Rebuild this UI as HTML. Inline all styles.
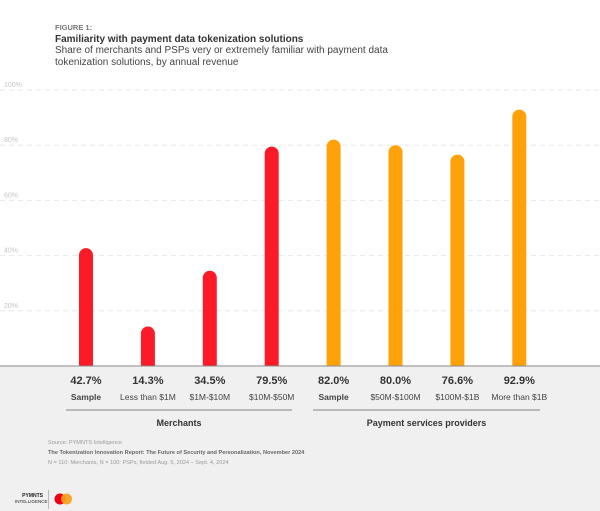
<!DOCTYPE html>
<html><head><meta charset="utf-8"><style>
body{margin:0;width:600px;height:511px;background:#fff;font-family:"Liberation Sans",sans-serif;overflow:hidden;position:relative}
.t{position:absolute;white-space:nowrap}
</style></head><body>
<div class="t" style="left:55px;top:23px;font-size:7.5px;font-weight:bold;color:#777">FIGURE 1:</div>
<div class="t" style="left:55px;top:34px;font-size:10px;font-weight:bold;color:#333">Familiarity with payment data tokenization solutions</div>
<div class="t" style="left:55px;top:45px;font-size:10px;color:#444;line-height:12px">Share of merchants and PSPs very or extremely familiar with payment data<br>tokenization solutions, by annual revenue</div>
<div style="position:absolute;left:0;top:366px;width:600px;height:145px;background:#eff0ef"></div>
<svg id="c" width="600" height="511" style="position:absolute;left:0;top:0"></svg>
<div class="t" style="left:48px;top:440px;font-size:5.6px;color:#999">Source: PYMNTS Intelligence</div>
<div class="t" style="left:48px;top:450px;font-size:5.6px;font-weight:bold;color:#666">The Tokenization Innovation Report: The Future of Security and Personalization, November 2024</div>
<div class="t" style="left:48px;top:460px;font-size:5.6px;color:#999">N = 110: Merchants, N = 100: PSPs, fielded Aug. 5, 2024 – Sept. 4, 2024</div>
<div class="t" style="left:15px;top:493px;width:28px;font-size:5px;font-weight:bold;color:#222;text-align:right;line-height:6px">PYMNTS<br><span style="font-weight:normal;font-size:4.5px">INTELLIGENCE</span></div>
<div style="position:absolute;left:48px;top:490px;width:1px;height:19px;background:#bbb"></div>
<svg style="position:absolute;left:54px;top:492px" width="20" height="14"><circle cx="6" cy="7" r="5.5" fill="#eb001b"/><circle cx="12.5" cy="7" r="5.5" fill="#f79e1b" opacity="0.9"/></svg>
<script>
const ticks=["20%","40%","60%","80%","100%"];
const tickVals=[20,40,60,80,100];
const cats=["Sample","Less than $1M","$1M-$10M","$10M-$50M","Sample","$50M-$100M","$100M-$1B","More than $1B"];
const values=[42.7,14.3,34.5,79.5,82.0,80.0,76.6,92.9];
const groups=["Merchants","Merchants","Merchants","Merchants","Payment services providers","Payment services providers","Payment services providers","Payment services providers"];
const svg=document.getElementById('c');const NS="http://www.w3.org/2000/svg";
const y0=366,pxPer=2.76;const y=v=>y0-v*pxPer;const x=i=>86+i*61.9;
function mk(t,a){const e=document.createElementNS(NS,t);for(const k in a)e.setAttribute(k,a[k]);svg.appendChild(e);return e;}
tickVals.forEach((v,i)=>{const l=mk('line',{x1:0,x2:600,y1:y(v),y2:y(v),stroke:'#e4e4e4','stroke-dasharray':'5,4','stroke-width':0.8});


const t=mk('text',{x:4,y:y(v)-3,'font-size':7,fill:'#c4c4c4','font-family':'Liberation Sans'});t.textContent=ticks[i];

});
values.forEach((v,i)=>{const w=14;const top=y(v);
const p=mk('path',{d:`M${x(i)-w/2},${y0}V${top+w/2}A${w/2},${w/2} 0 0 1 ${x(i)+w/2},${top+w/2}V${y0}Z`,fill:groups[i]==="Merchants"?'#fb1a26':'#ffa20a'});


const t=mk('text',{x:x(i),y:384,'text-anchor':'middle','font-size':11,'font-weight':'bold',fill:'#333','font-family':'Liberation Sans'});t.textContent=v.toFixed(1)+'%';


const c=mk('text',{x:x(i),y:400,'text-anchor':'middle','font-size':8.5,'font-weight':cats[i]==='Sample'?'bold':'normal',fill:'#444','font-family':'Liberation Sans'});c.textContent=cats[i];

});
const ax=mk('line',{x1:0,x2:600,y1:y0,y2:y0,stroke:'#888','stroke-width':1});


[["Merchants",66,292],["Payment services providers",313,540]].forEach(g=>{const l=mk('line',{x1:g[1],x2:g[2],y1:410,y2:410,stroke:'#999','stroke-width':1.2});


const t=mk('text',{x:(g[1]+g[2])/2,y:426,'text-anchor':'middle','font-size':9,'font-weight':'bold',fill:'#333','font-family':'Liberation Sans'});t.textContent=g[0];

});
</script>
</body></html>
